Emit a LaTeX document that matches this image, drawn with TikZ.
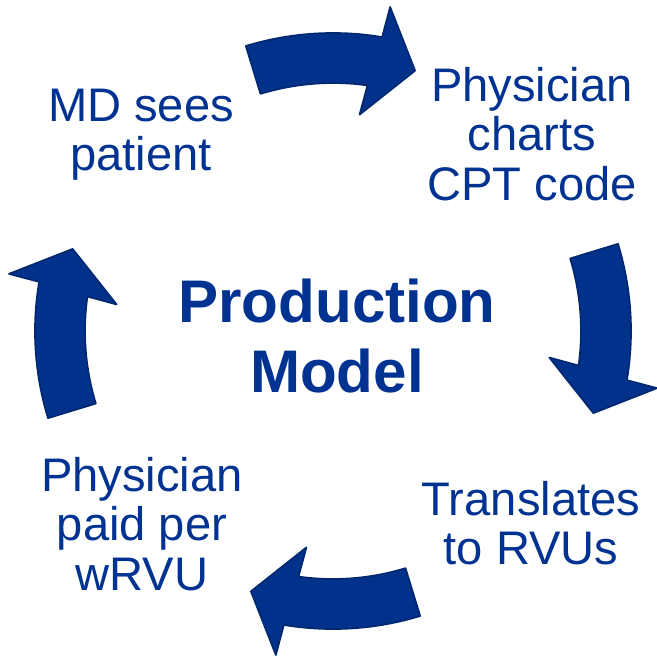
\documentclass[tikz,border=0pt]{standalone}
\usepackage{fontspec}
\setmainfont{Liberation Sans}
\usepackage{xcolor}
\definecolor{stepcol}{RGB}{0,51,145}
\definecolor{arrowcol}{RGB}{0,50,140}
\tikzstyle{stage}=[text=stepcol,align=center,inner sep=0,
                   font=\fontsize{13.4}{14}\selectfont]
\tikzstyle{title}=[stage,font=\fontsize{17.1}{19.9}\selectfont\bfseries]
\tikzstyle{cycarrow}=[fill=arrowcol,draw=arrowcol!80!black,line width=0.5pt,
                      line join=round]

\begin{document}
\begin{tikzpicture}[x=0.01cm,y=0.01cm]
  \def\Rin{248}
  \def\Rout{298}
  \def\Rtip{273}
  \def\Rbin{218}
  \def\Rbout{329}

  \useasboundingbox (0,0) rectangle (657,656);

  % CYCLE ARROWS
  \begin{scope}[shift={(333,325)}]
    \foreach \ang [evaluate={\atail=\ang+17; \ahin=\ang-8; \ahout=\ang-9.5;
                             \abin=\ang-7; \about=\ang-10; \atip=\ang-17.5;}]
      in {90,0,-90,180}{
      \draw[cycarrow]
        (\atail:\Rout) arc[start angle=\atail,end angle=\ahout,radius=\Rout]
        -- (\about:\Rbout) -- (\atip:\Rtip) -- (\abin:\Rbin) -- (\ahin:\Rin)
        arc[start angle=\ahin,end angle=\atail,radius=\Rin] -- cycle;
    }
  \end{scope}

  % LABELS
  \node[title] (model) at (337,320) {Production\\Model};
  \node[stage] (sees) at (141,521) {MD sees\\patient};
  \node[stage] (charts) at (532,522) {Physician\\charts\\CPT code};
  \node[stage] (rvus) at (531,133) {Translates\\to RVUs};
  \node[stage] (paid) at (142,132) {Physician\\paid per\\wRVU};

\end{tikzpicture}
\end{document}
